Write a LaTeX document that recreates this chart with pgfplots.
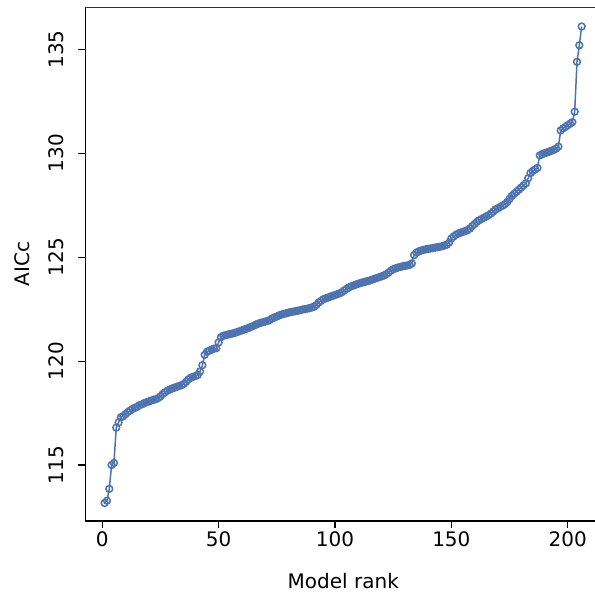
\documentclass[border=0pt]{standalone}
\usepackage{pgfplots}
\pgfplotsset{compat=1.18}
\usepackage{pgfplotstable}
\usepackage{fontspec}
\setmainfont{DejaVu Sans}
\definecolor{sblue}{RGB}{76,114,176}
\pgfplotstableread{
r v
1 113.17
2 113.28
3 113.85
4 115.0
5 115.1
6 116.8
7 117.05
8 117.3
9 117.35
10 117.45
11 117.55
12 117.62
13 117.7
14 117.75
15 117.8
16 117.88
17 117.92
18 117.98
19 118.02
20 118.06
21 118.1
22 118.13
23 118.17
24 118.22
25 118.3
26 118.42
27 118.5
28 118.58
29 118.63
30 118.68
31 118.72
32 118.76
33 118.8
34 118.84
35 118.9
36 119.0
37 119.12
38 119.2
39 119.24
40 119.28
41 119.33
42 119.5
43 119.8
44 120.3
45 120.45
46 120.5
47 120.55
48 120.6
49 120.62
50 120.9
51 121.15
52 121.22
53 121.25
54 121.28
55 121.3
56 121.33
57 121.36
58 121.4
59 121.44
60 121.48
61 121.52
62 121.56
63 121.6
64 121.65
65 121.7
66 121.75
67 121.8
68 121.84
69 121.87
70 121.9
71 121.93
72 121.98
73 122.05
74 122.1
75 122.15
76 122.2
77 122.24
78 122.27
79 122.3
80 122.33
81 122.36
82 122.38
83 122.4
84 122.42
85 122.45
86 122.48
87 122.5
88 122.52
89 122.55
90 122.58
91 122.62
92 122.7
93 122.82
94 122.9
95 122.98
96 123.02
97 123.06
98 123.1
99 123.14
100 123.18
101 123.22
102 123.26
103 123.32
104 123.4
105 123.48
106 123.55
107 123.6
108 123.64
109 123.68
110 123.72
111 123.76
112 123.79
113 123.82
114 123.85
115 123.88
116 123.92
117 123.96
118 124.0
119 124.04
120 124.08
121 124.12
122 124.18
123 124.26
124 124.35
125 124.42
126 124.46
127 124.5
128 124.53
129 124.56
130 124.58
131 124.6
132 124.63
133 124.7
134 125.1
135 125.22
136 125.28
137 125.32
138 125.35
139 125.38
140 125.4
141 125.42
142 125.44
143 125.46
144 125.48
145 125.5
146 125.53
147 125.56
148 125.6
149 125.7
150 125.9
151 126.0
152 126.08
153 126.14
154 126.18
155 126.22
156 126.26
157 126.3
158 126.38
159 126.5
160 126.6
161 126.7
162 126.78
163 126.84
164 126.9
165 126.96
166 127.02
167 127.1
168 127.2
169 127.3
170 127.36
171 127.42
172 127.48
173 127.55
174 127.65
175 127.8
176 127.95
177 128.05
178 128.15
179 128.25
180 128.35
181 128.45
182 128.55
183 128.8
184 129.05
185 129.15
186 129.22
187 129.3
188 129.9
189 129.96
190 130.0
191 130.04
192 130.08
193 130.12
194 130.16
195 130.22
196 130.32
197 131.1
198 131.2
199 131.27
200 131.35
201 131.42
202 131.5
203 132.0
204 134.4
205 135.2
206 136.1
}\datatable
\begin{document}
\begin{tikzpicture}
\begin{axis}[
  name=main,
  scale only axis,
  width=509.5pt, height=514pt,
  xmin=-7.22, xmax=211.73,
  ymin=112.305, ymax=137.04,
  axis lines*=left,
  axis line style={-, line width=1.1pt, black},
  tick align=outside,
  major tick length=7pt,
  every tick/.style={black, line width=1.1pt},
  xtick={0,50,100,150,200},
  ytick={115,120,125,130,135},
  tick label style={font=\fontsize{20}{24}\selectfont},
  /pgf/number format/assume math mode=true,
  yticklabel style={rotate=90, anchor=south},
  yticklabel shift=11pt,
  every axis x label/.style={at={(axis description cs:0.506,-0.116)}, anchor=center, inner sep=0pt, font=\fontsize{20}{24}\selectfont},
  every axis y label/.style={at={(axis description cs:-0.1247,0.5)}, rotate=90, anchor=center, font=\fontsize{20}{24}\selectfont},
  xlabel={Model rank},
  ylabel={AICc},
  clip=false,
]
\addplot[color=sblue, line width=1.5pt, mark=o, mark size=3.4pt, mark options={line width=1.5pt}] table[x=r, y=v] {\datatable};
\draw[color=black!80, line width=0.7pt] (rel axis cs:0,1) -- (rel axis cs:1,1);
\end{axis}
\pgfresetboundingbox
\path[use as bounding box] ([shift={(-85.5pt,-71pt)}]main.south west) rectangle ([shift={(0pt,7pt)}]main.north east);
\end{tikzpicture}
\end{document}
